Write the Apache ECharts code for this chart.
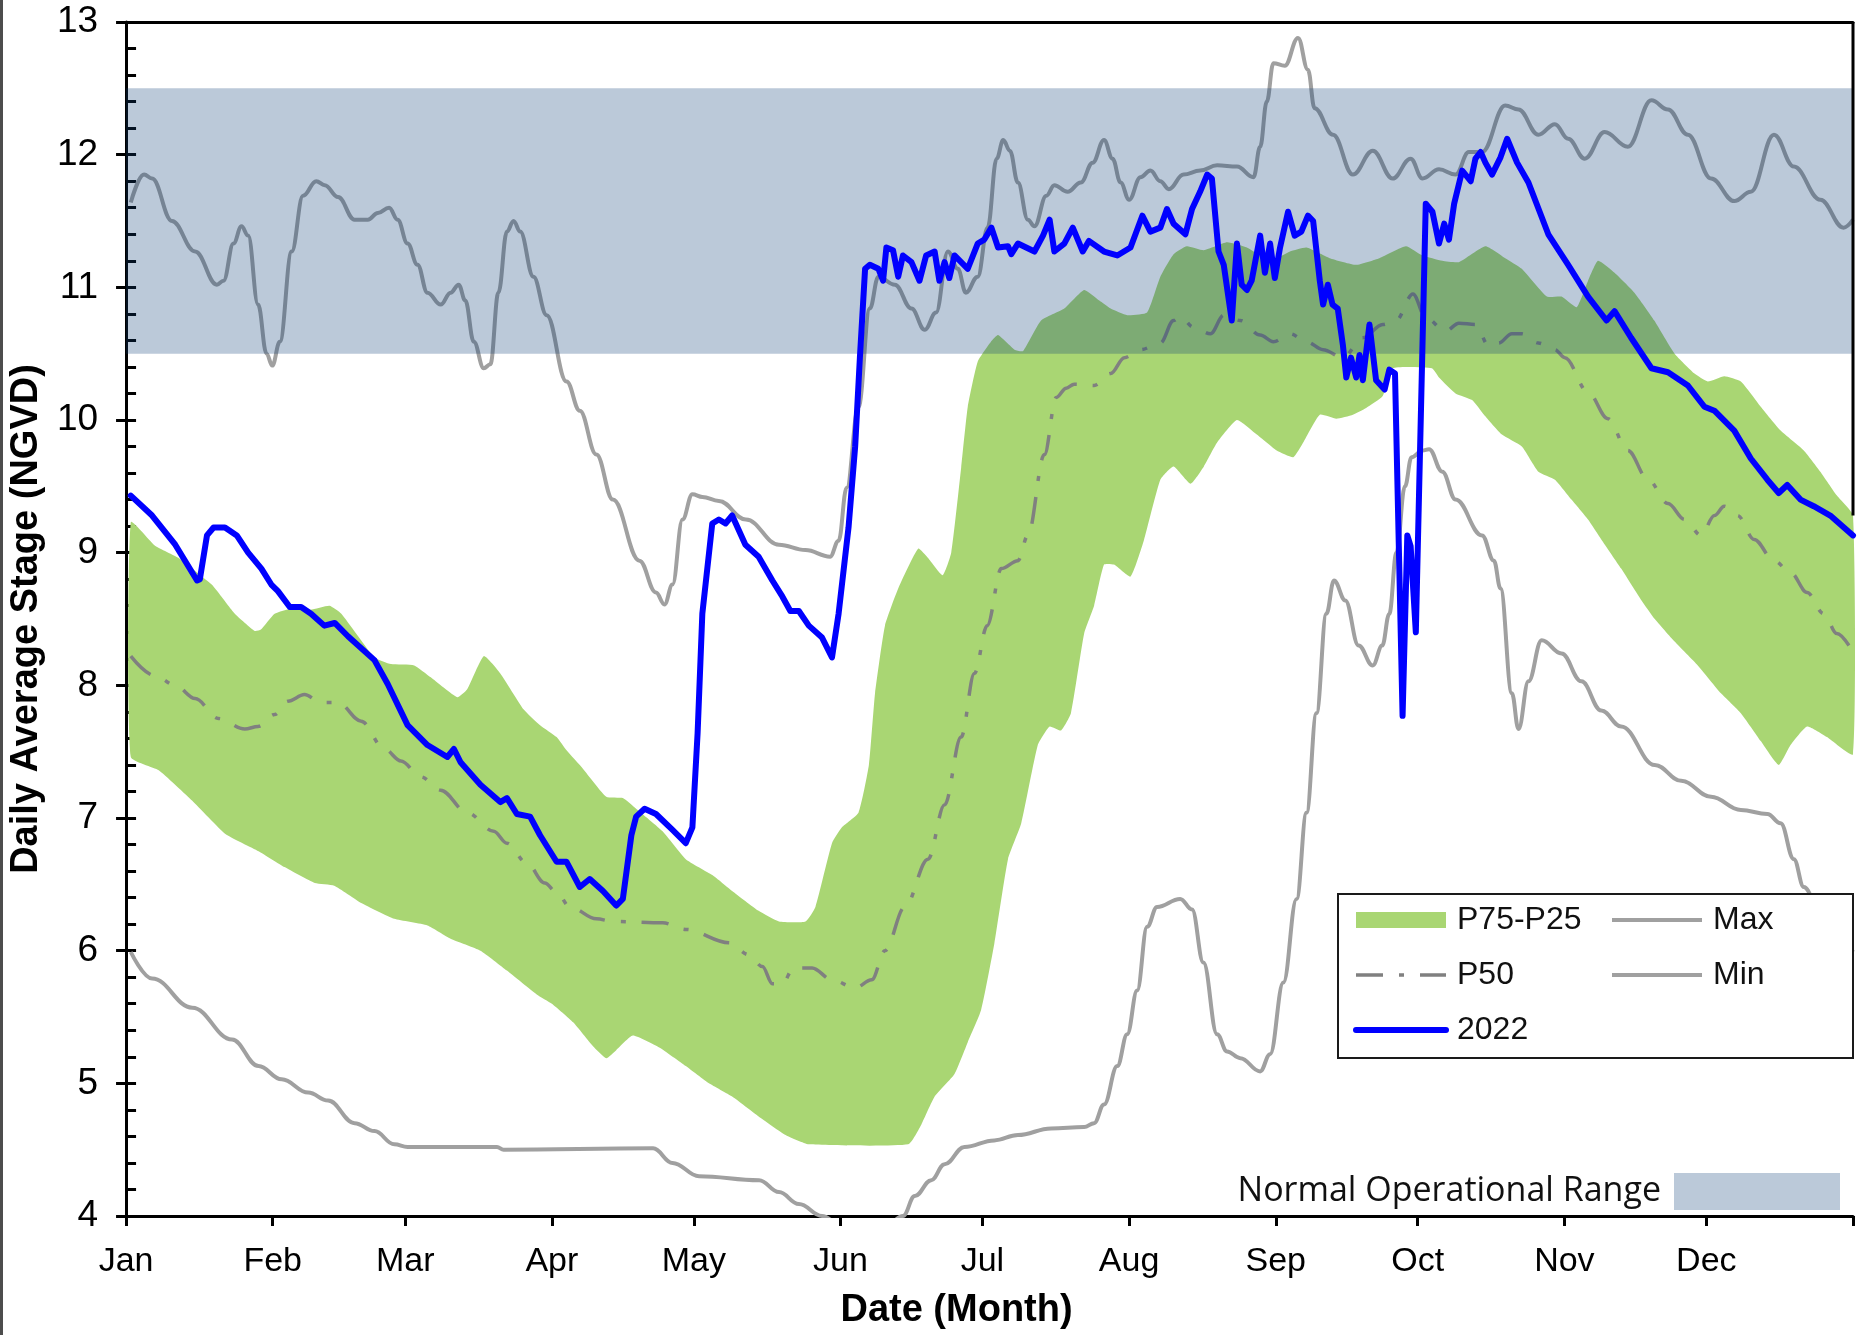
<!DOCTYPE html>
<html><head><meta charset="utf-8">
<script src="https://cdn.jsdelivr.net/npm/echarts@6.0.0/dist/echarts.min.js"></script>
<style>html,body{margin:0;padding:0;background:#fff}#chart{width:1867px;height:1335px}</style>
</head><body><div id="chart"></div>
<script>
// ---------- data (day of year, stage NGVD) ----------
const monthStarts = [0,31,59,90,120,151,181,212,243,273,304,334];
const monthLabels = ['Jan','Feb','Mar','Apr','May','Jun','Jul','Aug','Sep','Oct','Nov','Dec'];
const yearEnd = 365;
const yMin = 4, yMax = 13;
const bandLow = 10.5, bandHigh = 12.5;

const maxLine = [[1,11.64],[3.8,11.85],[5.5,11.82],[9.7,11.50],[14.6,11.27],[19.2,11.02],[20.6,11.05],[22.7,11.33],[24.4,11.46],[25.8,11.39],[27.9,10.87],[29.7,10.50],[30.9,10.41],[32.5,10.59],[35,11.27],[37.4,11.69],[40.2,11.80],[42,11.77],[44.8,11.68],[48.3,11.51],[51.1,11.51],[53.2,11.56],[55.6,11.60],[57.4,11.51],[59.5,11.33],[61.6,11.17],[63.7,10.96],[66.5,10.87],[68.6,10.96],[70.3,11.02],[71.7,10.90],[73.5,10.59],[75.6,10.39],[77,10.42],[78.7,10.96],[80.5,11.42],[81.9,11.50],[83.3,11.42],[86.1,11.08],[88.9,10.79],[93.1,10.29],[95.9,10.07],[99.4,9.74],[102.9,9.40],[108.5,8.94],[112,8.70],[113.8,8.61],[115.5,8.76],[117.6,9.25],[119.7,9.44],[121.8,9.42],[125.3,9.39],[131,9.25],[138,9.06],[143.6,9.02],[148.8,8.97],[150.6,9.09],[152.3,9.49],[154.8,10.10],[157.2,10.84],[159,11.08],[162.5,11.02],[166,10.84],[168.8,10.68],[171.2,10.81],[173.7,11.27],[175.8,11.14],[177.5,10.96],[180,11.08],[182.1,11.45],[184,11.97],[185.4,12.11],[186.8,12.03],[188.5,11.79],[190.6,11.51],[192,11.46],[194.5,11.69],[196.2,11.77],[199,11.72],[201.8,11.79],[204.3,11.94],[206.7,12.11],[208.5,11.97],[210.2,11.79],[212,11.66],[214.4,11.83],[216.5,11.88],[218.6,11.80],[220.4,11.74],[223.5,11.85],[227,11.88],[230.6,11.92],[234.8,11.91],[238.3,11.83],[239.7,12.06],[241.1,12.40],[242.5,12.69],[244.9,12.67],[247.7,12.88],[249.8,12.64],[251.2,12.35],[255.1,12.15],[259.3,11.85],[263.5,12.03],[267.7,11.82],[271.5,11.97],[274,11.82],[277.5,11.89],[281,11.85],[283.8,12.02],[286.6,12.02],[291.5,12.37],[294.3,12.34],[298.5,12.15],[302,12.23],[304.8,12.12],[308.3,11.97],[312.5,12.17],[317.4,12.06],[322.4,12.41],[325.9,12.34],[330.1,12.15],[335,11.82],[339.9,11.65],[343.4,11.72],[348.3,12.15],[352.5,11.91],[358.1,11.66],[363,11.45],[365,11.51]];

const minLine = [[1,5.99],[5.5,5.79],[14,5.57],[22.4,5.33],[28,5.13],[32.9,5.03],[38.5,4.93],[42.7,4.87],[48.3,4.70],[52.5,4.64],[56.7,4.54],[59.5,4.52],[78.4,4.52],[79.8,4.50],[111.4,4.51],[115.5,4.40],[121.1,4.30],[133.8,4.27],[138,4.18],[142.2,4.09],[147.1,4.0],[152,3.9],[160,3.9],[164.2,4.0],[166.7,4.15],[170.2,4.27],[173,4.39],[177.2,4.52],[183.5,4.57],[188.5,4.61],[195.5,4.66],[202.5,4.67],[204.6,4.70],[206.7,4.84],[209.5,5.13],[211.6,5.37],[213.7,5.70],[215.8,6.18],[217.9,6.33],[222.8,6.39],[225.3,6.31],[227.7,5.91],[230.6,5.37],[232.7,5.24],[235.5,5.19],[239.7,5.09],[241.8,5.22],[244.6,5.76],[247.4,6.39],[249.5,7.04],[251.6,7.79],[253.7,8.54],[255.3,8.79],[257.7,8.64],[260.5,8.30],[263.5,8.15],[265.5,8.30],[267,8.54],[268.5,9.0],[270.3,9.5],[271.7,9.72],[274,9.77],[275.4,9.78],[278.2,9.61],[281,9.40],[286.6,9.13],[289.1,8.94],[290.5,8.73],[292.9,7.94],[294.3,7.67],[296.4,8.03],[299.2,8.34],[303.4,8.24],[307.6,8.03],[311.8,7.81],[316,7.69],[323.1,7.40],[328.7,7.28],[335,7.16],[341.3,7.06],[346.9,7.03],[349.7,6.96],[352.5,6.69],[354.6,6.48],[358,6.30],[362,6.10],[365,5.99]];

const p50 = [[1,8.22],[6.2,8.07],[10.4,8.0],[14.6,7.90],[19.5,7.75],[25.1,7.67],[27.9,7.69],[31.4,7.78],[34.2,7.88],[37.7,7.93],[41.2,7.87],[44.8,7.87],[49.7,7.73],[54.6,7.52],[58.1,7.43],[62.3,7.31],[66.5,7.21],[72.1,7.04],[77.7,6.90],[80.5,6.81],[84.7,6.66],[88.5,6.51],[91,6.44],[93.8,6.33],[99.4,6.24],[102.9,6.22],[113.4,6.21],[118.3,6.16],[127.4,6.06],[131.6,5.97],[134.5,5.88],[136.6,5.75],[138.7,5.75],[141.1,5.87],[145,5.87],[149.2,5.78],[154.1,5.72],[157.6,5.78],[160.4,6.0],[164.6,6.33],[169.5,6.69],[173,7.10],[176.5,7.61],[179.3,8.09],[182,8.45],[185,8.88],[188.5,8.94],[190.6,9.13],[194.1,9.74],[196.6,10.17],[198.7,10.24],[200.4,10.27],[204.6,10.26],[208.1,10.35],[211,10.47],[214.4,10.53],[218.6,10.58],[221.4,10.75],[222.8,10.78],[225.6,10.70],[229.2,10.65],[232,10.79],[235.5,10.75],[239.7,10.64],[242.5,10.59],[246,10.65],[249.5,10.59],[253,10.53],[257.2,10.47],[261.4,10.62],[265.6,10.72],[268.4,10.75],[272,10.95],[274.7,10.77],[278.9,10.67],[281.7,10.73],[285.2,10.72],[288,10.56],[290.1,10.58],[292.9,10.65],[295,10.65],[298.5,10.58],[302,10.53],[304.1,10.47],[309,10.21],[313.2,10.01],[317.4,9.77],[321.7,9.55],[325.9,9.37],[329.4,9.25],[332.9,9.13],[335.7,9.28],[337.8,9.35],[340.6,9.28],[344.1,9.10],[348.3,8.94],[351.8,8.85],[355.3,8.70],[358.8,8.54],[361.6,8.39],[365,8.25]];

const p75 = [[1,9.23],[6.2,9.05],[11.1,8.96],[18.1,8.76],[19.5,8.70],[23,8.54],[27.2,8.41],[28.5,8.42],[31.4,8.54],[35,8.58],[39,8.57],[43,8.60],[45.5,8.54],[52.5,8.21],[56,8.16],[60.9,8.15],[64.4,8.06],[70,7.91],[72.1,7.97],[75.6,8.22],[79.1,8.09],[84,7.82],[87.5,7.70],[91,7.61],[93.1,7.51],[96.6,7.37],[101.5,7.16],[105,7.15],[107.8,7.07],[113.4,6.90],[118.3,6.69],[123.9,6.57],[128.1,6.45],[133.7,6.30],[138,6.22],[143.6,6.22],[145.7,6.33],[149.2,6.81],[151.3,6.93],[154.8,7.04],[157,7.40],[158.3,7.94],[160.4,8.45],[163.2,8.73],[167.4,9.03],[169.5,8.96],[172.6,8.83],[174.4,9.0],[176.5,9.64],[177.9,10.10],[180,10.44],[182.8,10.59],[184.3,10.64],[187.8,10.53],[189.6,10.52],[193.4,10.75],[198.3,10.84],[202.5,10.98],[205.7,10.90],[208.1,10.84],[211.6,10.79],[215.8,10.81],[218.6,11.08],[221.4,11.25],[224.2,11.31],[227.8,11.28],[232.7,11.34],[236.9,11.30],[241.8,11.20],[246,11.27],[249.5,11.30],[254.4,11.22],[260,11.17],[264.9,11.22],[270.5,11.31],[274,11.24],[278.2,11.20],[281.7,11.19],[287.3,11.31],[291.5,11.22],[295,11.14],[300.3,10.93],[303.4,10.93],[306.6,10.85],[309,11.05],[311.1,11.20],[314.6,11.11],[318.8,10.96],[323,10.75],[327.3,10.50],[331.5,10.35],[334.3,10.29],[337.8,10.33],[341.3,10.29],[345.5,10.10],[349.7,9.92],[354.6,9.77],[358.1,9.61],[361.6,9.43],[365,9.28]];

const p25 = [[1,7.46],[6.9,7.36],[14,7.13],[21,6.88],[28,6.75],[33.5,6.63],[39.9,6.51],[44,6.49],[49.7,6.36],[56.7,6.24],[63.7,6.19],[68.6,6.09],[74.9,6.0],[80.5,5.85],[86.8,5.67],[90,5.60],[94.5,5.46],[98.7,5.28],[101.5,5.19],[103.6,5.25],[107.1,5.36],[112.7,5.27],[118.3,5.13],[123.2,5.0],[128.1,4.90],[133.7,4.75],[139.4,4.61],[144.3,4.54],[165.3,4.54],[168.1,4.69],[170.9,4.90],[175.1,5.07],[177.9,5.31],[180.7,5.55],[183.5,6.05],[186.4,6.69],[189.2,6.96],[192.7,7.55],[195.2,7.69],[197.6,7.66],[199.7,7.79],[202.5,8.39],[204.6,8.60],[206.7,8.91],[208.8,8.91],[212.3,8.82],[215.1,9.09],[218.6,9.55],[221.4,9.65],[225,9.52],[227.8,9.65],[230.6,9.83],[234.8,10.0],[239,9.89],[243.2,9.77],[246.7,9.72],[248.8,9.83],[252.3,10.04],[255.8,10.01],[259.3,10.04],[262.1,10.09],[265.6,10.18],[267.7,10.39],[276,10.39],[277.5,10.32],[281,10.20],[284.5,10.15],[287,10.04],[290.8,9.89],[295,9.80],[298.5,9.61],[302,9.55],[305.5,9.40],[309,9.25],[311.8,9.10],[316,8.88],[320.3,8.64],[323.1,8.50],[327.3,8.33],[332.2,8.15],[337.1,7.94],[341.3,7.79],[345.5,7.58],[349.3,7.40],[351.8,7.55],[355.3,7.69],[359.5,7.61],[365,7.48]];

const stage2022 = [[1,9.43],[5.5,9.28],[10.4,9.06],[15,8.79],[15.6,8.80],[17.1,9.13],[18.5,9.19],[20.9,9.19],[23.4,9.13],[25.8,9.0],[28.6,8.88],[30.7,8.76],[32.1,8.71],[34.6,8.59],[37,8.59],[39.1,8.54],[41.9,8.45],[44.1,8.47],[46.9,8.37],[52.5,8.19],[55.3,8.01],[59.5,7.70],[63.7,7.55],[67.9,7.46],[69.3,7.52],[70.7,7.42],[74.9,7.25],[79.1,7.12],[80.5,7.15],[82.6,7.03],[85.4,7.01],[87.5,6.87],[91,6.67],[93.1,6.67],[95.9,6.48],[98,6.54],[100.8,6.45],[103.6,6.34],[105,6.39],[106.8,6.87],[107.8,7.01],[109.6,7.07],[112,7.03],[115.5,6.91],[118.3,6.81],[119.7,6.93],[120.8,7.64],[121.8,8.54],[123.9,9.22],[125.3,9.25],[126.7,9.22],[128.1,9.28],[130.9,9.06],[133.7,8.97],[136.6,8.79],[138.7,8.67],[140.4,8.56],[142.2,8.56],[144.3,8.45],[147.1,8.36],[149.2,8.21],[150.6,8.54],[152.7,9.19],[154.1,9.80],[155.1,10.47],[156.2,11.14],[157.2,11.17],[159,11.14],[160,11.05],[160.7,11.30],[162.1,11.28],[163.2,11.08],[164.2,11.24],[166,11.19],[167.7,11.05],[169.1,11.24],[170.9,11.27],[171.9,11.05],[173,11.19],[174,11.07],[175.1,11.24],[177.9,11.14],[180,11.33],[181.4,11.36],[182.9,11.45],[184.3,11.30],[186.4,11.31],[187.1,11.25],[188.5,11.33],[192,11.27],[193.8,11.39],[195.2,11.51],[196.2,11.27],[198.3,11.33],[200.1,11.45],[202.2,11.27],[203.5,11.35],[206.7,11.27],[209.5,11.24],[212.3,11.30],[214.8,11.54],[216.5,11.42],[218.6,11.45],[220,11.59],[221.4,11.48],[223.9,11.40],[225.3,11.59],[227,11.72],[228.5,11.85],[229.5,11.82],[230.9,11.27],[232,11.17],[233.7,10.75],[234.8,11.33],[235.8,11.02],[236.9,10.98],[237.9,11.05],[239.7,11.39],[240.7,11.11],[241.8,11.33],[242.8,11.07],[243.9,11.30],[245.6,11.57],[247,11.39],[248.4,11.42],[249.8,11.54],[250.9,11.50],[252.3,11.05],[253,10.87],[254,11.02],[255,10.87],[256.1,10.84],[257.2,10.56],[257.9,10.32],[258.9,10.47],[260,10.32],[260.7,10.49],[261.4,10.30],[262.8,10.72],[264.2,10.30],[266,10.23],[267,10.38],[268.2,10.35],[269.8,7.77],[270.8,9.13],[271.5,9.05],[272.6,8.40],[274.7,11.63],[276.1,11.57],[277.5,11.33],[278.6,11.48],[279.6,11.36],[280.7,11.63],[282.4,11.88],[284.2,11.80],[285.2,11.97],[286.3,12.02],[287.3,11.94],[288.7,11.85],[290.5,11.98],[291.9,12.12],[294,11.94],[296.4,11.79],[300.6,11.40],[304.8,11.17],[309,10.93],[312.9,10.75],[314.6,10.82],[318.1,10.62],[322.4,10.39],[325.9,10.36],[330.1,10.26],[333.6,10.10],[335.7,10.07],[339.9,9.92],[343.4,9.71],[346.9,9.55],[349.3,9.45],[351.1,9.51],[353.9,9.40],[356.7,9.35],[360.2,9.28],[365,9.13]];

// ---------- styling ----------
const FONT = "'Liberation Sans', Arial, sans-serif";
const GREEN = '#a9d673';
const BAND = 'rgba(12,60,118,0.28)';
const GRAY = '#a0a0a0';
const HIDE_SYMBOL = {opacity: 0};
const GRAY_W = 4, P50_W = 3.5, BLUE_W = 6;

const chart = echarts.init(document.getElementById('chart'), null, {renderer: 'canvas'});

const option = {
  animation: false,
  backgroundColor: '#fff',
  grid: {left: 112, right: 14, top: 22, bottom: 98},
  graphic: [{type: 'rect', left: 0, top: 0, shape: {width: 3, height: 1335}, style: {fill: '#4d4d4d'}, z: 100}],
  legend: [{
    left: 1338, top: 894, orient: 'horizontal', width: 600,
    padding: [9, 8, 11, 15], itemGap: 21, itemWidth: 90, itemHeight: 16,
    backgroundColor: '#fff', borderColor: '#1a1a1a', borderWidth: 2, z: 10,
    selectedMode: false,
    data: [
      {name: 'P75-P25', icon: 'rect'},
      {name: 'Max', itemStyle: HIDE_SYMBOL, lineStyle: {width: GRAY_W}},
      {name: 'P50', itemStyle: HIDE_SYMBOL, lineStyle: {width: P50_W}},
      {name: 'Min', itemStyle: HIDE_SYMBOL, lineStyle: {width: GRAY_W}},
      {name: '2022', itemStyle: HIDE_SYMBOL, lineStyle: {width: BLUE_W}}
    ],
    textStyle: {fontSize: 32, color: '#111', fontFamily: FONT, width: 132, padding: [0, 0, 0, 6], lineHeight: 34}
  }, {
    right: 27, top: 1173, align: 'right', itemWidth: 166, itemHeight: 37, padding: 0,
    selectedMode: false, z: 10,
    data: [{name: 'Normal Operational Range', icon: 'rect'}],
    textStyle: {fontSize: 34, color: '#111', fontFamily: "'Open Sans', sans-serif", padding: [0, 8, 0, 0]}
  }],
  xAxis: [{
    type: 'value', min: 0, max: yearEnd, position: 'bottom',
    axisLine: {show: true, lineStyle: {color: '#000', width: 3}},
    axisTick: {show: true, inside: false, length: 10, lineStyle: {color: '#000', width: 3},
      customValues: monthStarts.concat([yearEnd])},
    axisLabel: {customValues: monthStarts, fontSize: 34, color: '#000', fontFamily: FONT, margin: 29,
      formatter: v => monthLabels[monthStarts.indexOf(v)] || ''},
    splitLine: {show: false},
    name: 'Date (Month)', nameLocation: 'middle', nameGap: 76,
    nameTextStyle: {fontSize: 38, fontWeight: 'bold', color: '#000', fontFamily: FONT, padding: [0, 66, 0, 0]}
  }, {
    type: 'value', min: 0, max: yearEnd, position: 'top',
    axisLine: {show: true, lineStyle: {color: '#000', width: 3}},
    axisTick: {show: false}, axisLabel: {show: false}, splitLine: {show: false}
  }],
  yAxis: [{
    type: 'value', min: yMin, max: yMax, interval: 1, position: 'left',
    axisLine: {show: true, lineStyle: {color: '#000', width: 3}},
    axisTick: {show: true, inside: false, length: 10, lineStyle: {color: '#000', width: 3}},
    axisLabel: {fontSize: 37, color: '#000', fontFamily: FONT, margin: 28},
    splitLine: {show: false},
    name: 'Daily Average Stage (NGVD)', nameLocation: 'middle', nameGap: 47, nameRotate: 90,
    nameTextStyle: {fontSize: 38, fontWeight: 'bold', color: '#000', fontFamily: FONT}
  }, {
    type: 'value', min: yMin, max: yMax, interval: 0.2, position: 'left',
    axisLine: {show: false},
    axisTick: {show: true, inside: true, length: 10, lineStyle: {color: '#000', width: 3}},
    axisLabel: {show: false}, splitLine: {show: false}
  }],
  series: [
    {
      name: 'P75-P25', type: 'custom', z: 1, silent: true,
      itemStyle: {color: GREEN},
      data: [p75[0]],
      renderItem: function (params, api) {
        const pts = [];
        p75.forEach(p => pts.push(api.coord(p)));
        for (let i = p25.length - 1; i >= 0; i--) pts.push(api.coord(p25[i]));
        return {type: 'polygon', shape: {points: pts, smooth: 0.15}, style: {fill: GREEN}};
      }
    },
    {name: 'Max', type: 'line', z: 2, data: maxLine, symbol: 'none', smooth: 0.4, smoothMonotone: 'x',
      lineStyle: {color: GRAY, width: GRAY_W}, itemStyle: {color: GRAY}, silent: true},
    {name: 'Min', type: 'line', z: 2, data: minLine, symbol: 'none', smooth: 0.4, smoothMonotone: 'x',
      lineStyle: {color: GRAY, width: GRAY_W}, itemStyle: {color: GRAY}, silent: true},
    {name: 'P50', type: 'line', z: 2, data: p50, symbol: 'none', smooth: 0.35, smoothMonotone: 'x',
      lineStyle: {color: '#808080', width: P50_W, type: [27, 16, 5, 16]}, itemStyle: {color: '#808080'}, silent: true},
    {
      name: 'Normal Operational Range', type: 'custom', z: 3, silent: true,
      itemStyle: {color: BAND},
      data: [[0, bandLow]],
      renderItem: function (params, api) {
        const a = api.coord([0, bandHigh]);
        const b = api.coord([yearEnd, bandLow]);
        return {type: 'rect', shape: {x: a[0], y: a[1], width: b[0] - a[0], height: b[1] - a[1]}, style: {fill: BAND}};
      }
    },
    {name: '2022', type: 'line', z: 4, data: stage2022, symbol: 'none',
      lineStyle: {color: '#0000ff', width: BLUE_W, join: 'round', cap: 'round'}, itemStyle: {color: '#0000ff'}, silent: true},
    {name: 'plotBorder', type: 'line', z: 5, data: [[yearEnd, yMax], [yearEnd, p75[p75.length - 1][1]]],
      symbol: 'none', lineStyle: {color: '#000', width: 3}, silent: true, clip: false}
  ]
};
chart.setOption(option);
</script>
</body></html>
